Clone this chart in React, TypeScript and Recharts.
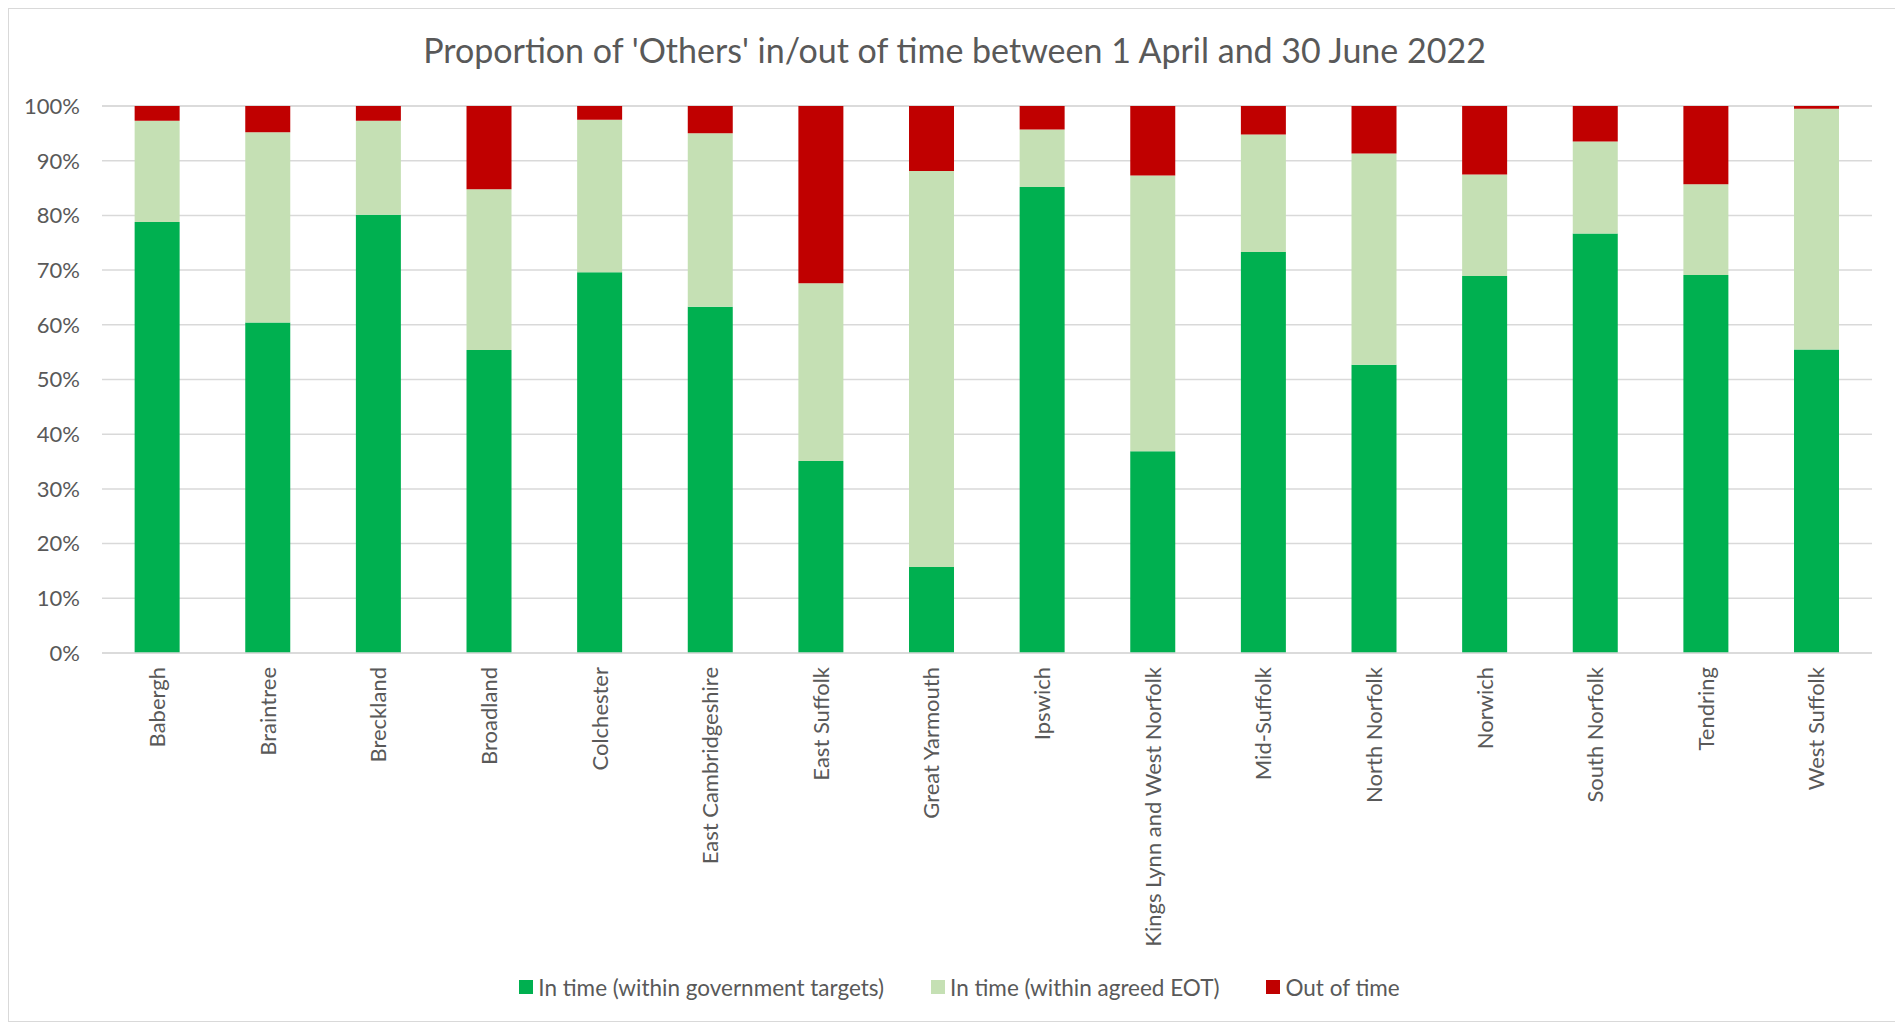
import React from "react";
import { BarChart, Bar, XAxis, YAxis, CartesianGrid, Legend } from "recharts";

const categories = [
  "Babergh", "Braintree", "Breckland", "Broadland", "Colchester",
  "East Cambridgeshire", "East Suffolk", "Great Yarmouth", "Ipswich",
  "Kings Lynn and West Norfolk", "Mid-Suffolk", "North Norfolk", "Norwich",
  "South Norfolk", "Tendring", "West Suffolk",
];
const inTimeTargets = [78.8, 60.4, 80.1, 55.4, 69.6, 63.3, 35.1, 15.7, 85.2, 36.9, 73.3, 52.7, 68.9, 76.7, 69.1, 55.5];
const inTimeEOT = [18.5, 34.8, 17.2, 29.4, 27.9, 31.7, 32.5, 72.4, 10.5, 50.4, 21.5, 38.6, 18.6, 16.8, 16.6, 44.0];
const outOfTime = [2.7, 4.8, 2.7, 15.2, 2.5, 5.0, 32.4, 11.9, 4.3, 12.7, 5.2, 8.7, 12.5, 6.5, 14.3, 0.5];
const yTicks = [0, 10, 20, 30, 40, 50, 60, 70, 80, 90, 100];
const seriesNames = ["In time (within government targets)", "In time (within agreed EOT)", "Out of time"];
const seriesColors = ["#00B050", "#C5E0B4", "#C00000"];
const title = "Proportion of 'Others' in/out of time between 1 April and 30 June 2022";

const data = categories.map((c, i) => ({
  name: c,
  a: inTimeTargets[i],
  b: inTimeEOT[i],
  c: outOfTime[i],
}));

const FONT = "Lato, 'Open Sans', sans-serif";
const TEXT = "#595959";

const XTick = (props: any) => {
  const { x, y, payload } = props;
  return (
    <g transform={`translate(${x},${y + 6})`}>
      <text
        x={0}
        y={0}
        dy="0.35em"
        transform="rotate(-90)"
        textAnchor="end"
        fill={TEXT}
        fontSize={22}
        fontFamily={FONT}
      >
        {payload.value}
      </text>
    </g>
  );
};

const LegendContent = () => (
  <div
    style={{
      height: 40,
      display: "flex",
      justifyContent: "center",
      alignItems: "center",
      paddingLeft: 30,
      fontFamily: FONT,
      fontSize: 22.5,
      color: TEXT,
    }}
  >
    {seriesNames.map((n, i) => (
      <div key={n} style={{ display: "flex", alignItems: "center", marginLeft: i === 0 ? 0 : 47 }}>
        <span style={{ display: "inline-block", width: 14, height: 14, background: seriesColors[i], marginRight: 5 }} />
        <span>{n}</span>
      </div>
    ))}
  </div>
);

export default function App() {
  return (
    <div
      style={{
        position: "relative",
        width: 1893,
        height: 1014,
        border: "1px solid #D9D9D9",
        boxSizing: "border-box",
        background: "#fff",
      }}
    >
      <div
        style={{
          position: "absolute",
          left: 0,
          right: 0,
          top: 21,
          textAlign: "center",
          fontFamily: FONT,
          fontSize: 34,
          color: TEXT,
          lineHeight: "40px",
        }}
      >
        {title}
      </div>
      <BarChart
        width={1891}
        height={1012}
        data={data}
        margin={{ top: 97, right: 28, left: 8, bottom: 14 }}
        barCategoryGap="29.5%"
      >
        <CartesianGrid vertical={false} stroke="#D9D9D9" strokeWidth={1.5} />
        <XAxis
          dataKey="name"
          interval={0}
          tickLine={false}
          axisLine={{ stroke: "#D9D9D9", strokeWidth: 1.5 }}
          height={314}
          tick={<XTick />}
        />
        <YAxis
          width={85}
          domain={[0, 100]}
          ticks={yTicks}
          tickFormatter={(v: number) => `${v}%`}
          axisLine={false}
          tickLine={false}
          tickMargin={16}
          tick={{ fill: TEXT, fontSize: 22, fontFamily: FONT }}
        />
        <Legend verticalAlign="bottom" content={<LegendContent />} />
        <Bar dataKey="a" name={seriesNames[0]} stackId="s" fill={seriesColors[0]} isAnimationActive={false} />
        <Bar dataKey="b" name={seriesNames[1]} stackId="s" fill={seriesColors[1]} isAnimationActive={false} />
        <Bar dataKey="c" name={seriesNames[2]} stackId="s" fill={seriesColors[2]} isAnimationActive={false} />
      </BarChart>
    </div>
  );
}
